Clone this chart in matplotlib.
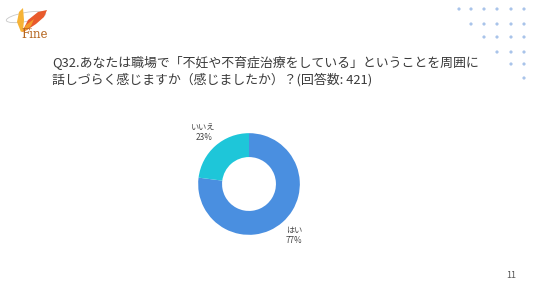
import matplotlib
matplotlib.use("Agg")
import matplotlib.pyplot as plt
from matplotlib.patches import Polygon, Ellipse, Circle
from matplotlib.transforms import Affine2D
import numpy as np

plt.rcParams['font.family'] = ['Noto Sans CJK JP', 'DejaVu Sans']

categories = ["はい", "いいえ"]
values = [77, 23]
colors = ["#4A8FE0", "#1EC6D9"]
title_lines = ["Q32.あなたは職場で「不妊や不育症治療をしている」ということを周囲に",
               "話しづらく感じますか（感じましたか）？(回答数: 421)"]
page_no = "11"

W, H = 536, 302
fig = plt.figure(figsize=(W/100, H/100), dpi=100)
fig.patch.set_facecolor("white")

# pixel transform (top-left origin)
pix = Affine2D().scale(1/W, -1/H).translate(0, 1) + fig.transFigure

# title
fig.text(52/W, 1-62/H, title_lines[0], fontsize=9.3, color="#3a3a3a", va="center", ha="left")
fig.text(52/W, 1-80/H, title_lines[1], fontsize=9.3, color="#3a3a3a", va="center", ha="left")

# page number
fig.text(511/W, 1-276/H, page_no, fontsize=6.5, color="#555555", va="center", ha="center")

# dot grid
dot_x = [459, 471, 484, 497, 511, 524]
dot_y = [9, 24, 37, 52, 64, 78]
for r, y in enumerate(dot_y):
    for x in dot_x[r:]:
        fig.patches.append(Circle((x, y), 1.6, transform=pix, color="#A9C4EA", lw=0))

# logo approximation
fig.patches.append(Ellipse((26, 17), 40, 9, angle=-10, transform=pix, fill=False,
                           edgecolor="#C8C8C8", lw=0.6))
fig.patches.append(Polygon([(22, 32), (28, 20), (38, 12), (47, 10), (44, 17), (36, 24), (27, 30)],
                           closed=True, transform=pix, color="#E95A2C", lw=0))
fig.patches.append(Polygon([(22, 32), (26, 25), (34, 19), (31, 26), (25, 31)],
                           closed=True, transform=pix, color="#F39A2B", lw=0))
fig.patches.append(Polygon([(21, 32), (17, 22), (19, 12), (23, 8), (24, 20), (23, 31)],
                           closed=True, transform=pix, color="#F6B336", lw=0))
fig.text(35/W, 1-35/H, "Fine", family="DejaVu Serif", fontsize=8.5, color="#B5651D",
         ha="center", va="center")

# donut
cx, cy = 249, 184
ax = fig.add_axes([(cx-61)/W, (H-cy-61)/H, 122/W, 122/H])
ax.pie(values, colors=colors, startangle=90, counterclock=False,
       wedgeprops=dict(width=0.47, edgecolor="none"), radius=1.0)
ax.set_xlim(-1.2, 1.2)
ax.set_ylim(-1.2, 1.2)
ax.set_aspect("equal")
ax.axis("off")

total = sum(values)
start = 90.0
for cat, v in zip(categories, values):
    span = 360.0 * v / total
    mid = np.deg2rad(start - span/2)
    start -= span
    ax.text(1.35*np.cos(mid), 1.35*np.sin(mid), f"{cat}\n{v}%", ha="center", va="center",
            fontsize=5.9, color="#444444", linespacing=1.15, clip_on=False)

fig.savefig("out.png", dpi=100, facecolor="white")
